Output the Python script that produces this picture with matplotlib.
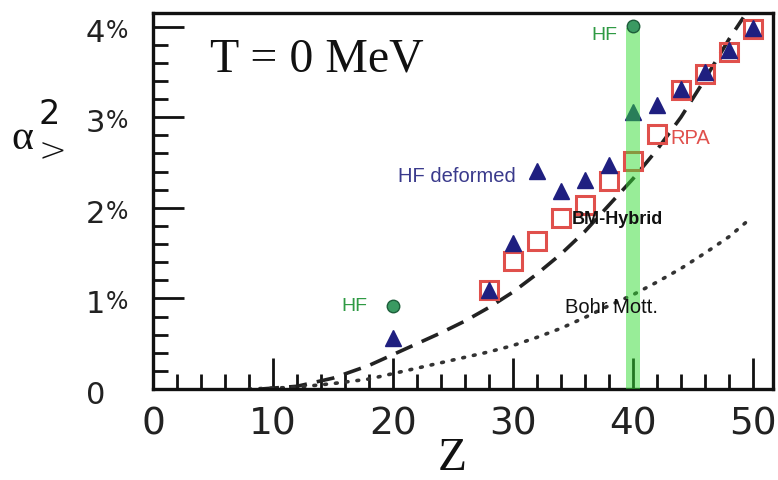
import matplotlib.pyplot as plt
import numpy as np
from matplotlib.ticker import MultipleLocator

# proton number Z and alpha^2 (in %)
z_tri = [20, 28, 30, 32, 34, 36, 38, 40, 42, 44, 46, 48, 50]
hf_deformed = [0.56, 1.09, 1.61, 2.41, 2.19, 2.31, 2.47, 3.06, 3.13, 3.31, 3.50, 3.74, 3.98]

z_sq = [28, 30, 32, 34, 36, 38, 40, 42, 44, 46, 48, 50]
rpa = [1.09, 1.41, 1.63, 1.89, 2.03, 2.30, 2.52, 2.81, 3.30, 3.48, 3.72, 3.97]

z_hf = [20, 40]
hf_spherical = [0.92, 4.01]

z_bm = [9, 12, 15, 18, 20, 22, 24, 26, 28, 30, 32, 34, 36, 38, 40, 42, 44, 46, 48, 49.2]
bm_hybrid = [0.0, 0.03, 0.12, 0.26, 0.38, 0.50, 0.62, 0.75, 0.90, 1.07, 1.27, 1.49, 1.74, 2.03, 2.32, 2.64, 3.00, 3.42, 3.86, 4.10]

z_mott = [8, 12, 15, 18, 20, 22, 24, 26, 28, 30, 32, 34, 36, 38, 40, 42, 44, 46, 48, 49.6]
bohr_mott = [0.0, 0.02, 0.06, 0.11, 0.17, 0.23, 0.29, 0.35, 0.41, 0.48, 0.57, 0.67, 0.79, 0.92, 1.04, 1.18, 1.33, 1.50, 1.68, 1.86]

x_ticks = [0, 10, 20, 30, 40, 50]
y_ticks = [0, 1, 2, 3, 4]
band = (39.4, 40.6)

fig = plt.figure(figsize=(7.78, 4.81), dpi=100)
ax = fig.add_axes([153 / 778, 1 - 390 / 481, 620 / 778, 376 / 481])
ax.set_xlim(0, 51.67)
ax.set_ylim(0, 4.15)

navy = '#1f1f80'
red = '#e0504c'
green_txt = '#2f9a44'

ax.plot(z_bm, bm_hybrid, color='#222222', lw=2.6, ls=(0, (5.0, 2.8)), zorder=2)
ax.plot(z_mott, bohr_mott, color='#333333', lw=2.6, ls=(0, (0.5, 2.5)),
        dash_capstyle='round', zorder=2)

ax.plot(z_sq, rpa, ls='none', marker='s', ms=13, mfc='none', mec=red, mew=2.2, zorder=3)
ax.plot(z_tri, hf_deformed, ls='none', marker='^', ms=11, color=navy, zorder=4)
ax.plot(z_hf, hf_spherical, ls='none', marker='o', ms=9, mfc='#3a9a62', mec='#1d5e3a',
        mew=1.0, zorder=6)

# translucent band at Z = 40
ax.fill_between(band, 0, 3.98, color='#33dd33', alpha=0.5, lw=0, zorder=5)

# axes styling
for side in ['left', 'bottom', 'top', 'right']:
    ax.spines[side].set_linewidth(2.4)
    ax.spines[side].set_color('#111111')
ax.set_xticks(x_ticks)
ax.set_yticks(y_ticks)
ax.xaxis.set_minor_locator(MultipleLocator(2))
ax.yaxis.set_minor_locator(MultipleLocator(0.2))
ax.tick_params(which='major', direction='in', length=22, width=2.0, color='#111111',
               top=False, right=False)
ax.tick_params(which='minor', direction='in', length=11, width=2.0, color='#111111',
               top=False, right=False)
ax.tick_params(axis='x', labelsize=27, pad=12, labelcolor='#222222')
ax.set_xticklabels([str(v) for v in x_ticks], family='DejaVu Sans')
ax.set_yticklabels([])

# y tick labels with a small percent sign
ytr = ax.get_yaxis_transform()
for v in y_ticks:
    ax.text(-0.077, v - 0.155, str(v), transform=ytr, ha='right', va='baseline',
            fontsize=22, color='#222222', family='DejaVu Sans')
    if v > 0:
        ax.text(-0.076, v - 0.11, '%', transform=ytr, ha='left', va='baseline',
                fontsize=17, color='#222222', family='DejaVu Sans')

# axis labels
fig.text(452 / 778, 1 - 459 / 481, 'Z', ha='center', va='center', fontsize=34,
         family='Liberation Serif', color='#111111')
fig.text(22 / 778, 1 - 139 / 481, 'α', ha='center', va='center', fontsize=30,
         family='Liberation Serif', color='#111111')
fig.text(49 / 778, 1 - 115 / 481, '2', ha='center', va='center', fontsize=24,
         family='DejaVu Sans', color='#111111')
fig.text(52 / 778, 1 - 152 / 481, '>', ha='center', va='center', fontsize=24,
         family='DejaVu Sans', color='#111111', fontweight='light')

# annotations
ax.text(4.75, 3.51, 'T = 0 MeV', ha='left', va='baseline', fontsize=34.5,
        family='Liberation Serif', color='#111111')
ax.text(17.9, 0.92, 'HF', ha='right', va='center', fontsize=14,
        family='Liberation Sans', color=green_txt)
ax.text(38.7, 3.91, 'HF', ha='right', va='center', fontsize=14,
        family='Liberation Sans', color=green_txt)
ax.text(20.4, 2.36, 'HF deformed', ha='left', va='center', fontsize=14.5,
        family='Liberation Sans', color='#3a3a8c')
ax.text(43.1, 2.78, 'RPA', ha='left', va='center', fontsize=14.5,
        family='Liberation Sans', color=red, zorder=6)
ax.text(34.9, 1.88, 'BM-Hybrid', ha='left', va='center', fontsize=13,
        family='Liberation Sans', fontweight='bold', color='#111111', zorder=6)
ax.text(34.3, 0.91, 'Bohr Mott.', ha='left', va='center', fontsize=14.5,
        family='Liberation Sans', color='#111111', zorder=6)

fig.savefig('out.png', dpi=100)
